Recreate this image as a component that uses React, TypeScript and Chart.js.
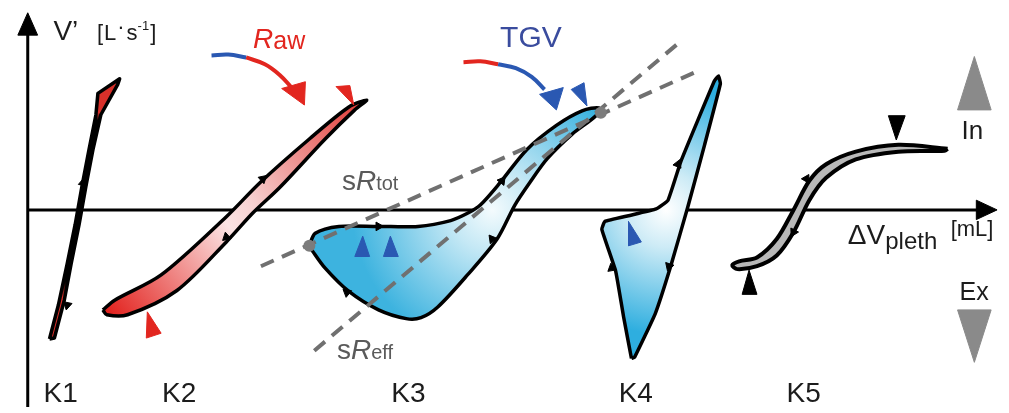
import { useEffect, useRef } from "react";
import { Chart, registerables } from "chart.js";

Chart.register(...registerables);

type P = [number, number];

// data units: origin at the crossing of the two axes (ΔVpleth right, V' up)
const xRange: P = [-22, 987];
const yRange: P = [-203, 210];

const axisV: P[] = [[0, -203], [0, 182]];
const axisH: P[] = [[0, 0], [962, 0]];
const axisVHead: P[] = [[-10, 180], [0, 203], [10, 180]];
const axisHHead: P[] = [[960, 10], [981, 0], [960, -10]];

const loopK1: P[] = [
  [22, -133], [31, -98], [40, -55], [48, -15], [55, 25], [62, 62], [69, 98], [71, 120], [93, 135],
  [91, 129], [74, 98], [66, 62], [59, 25], [52, -15], [44, -55], [37, -93], [27, -132],
];
const loopK2: P[] = [
  [76, -103], [88, -93], [135, -67], [201, -7], [235, 28], [285, 73], [325, 106], [343, 113],
  [331, 103], [301, 73], [255, 23], [228, -3], [201, -33], [151, -83], [101, -108], [80, -108],
];
const loopK3: P[] = [
  [285, -37], [291, -24], [315, -17], [355, -17], [395, -17], [428, -11], [446, -3], [458, 5],
  [478, 28], [505, 62], [535, 87], [561, 102], [578, 105], [575, 97], [551, 78], [526, 53],
  [508, 28], [493, 5], [475, -30], [445, -67], [415, -100], [398, -111], [383, -112],
  [355, -103], [325, -84], [301, -60], [288, -42],
];
const loopK4: P[] = [
  [611, -153], [603, -110], [595, -63], [581, -20], [584, -12], [608, -6], [636, 1], [648, 10],
  [661, 50], [678, 92], [695, 133], [699, 138], [701, 130], [685, 67], [668, 3], [651, -57],
  [635, -107], [614, -152],
];
const loopK5: P[] = [
  [931, 63], [881, 67], [838, 60], [808, 47], [791, 30], [775, 0], [758, -30], [738, -49],
  [720, -53], [713, -57], [718, -61], [738, -58], [758, -47], [775, -23], [791, 10], [808, 33],
  [838, 52], [881, 60], [928, 61],
];

// direction marks along loops: x, y, rotation (deg)
const markX = [56, 40, 238, 201, 355, 323, 470, 480, 658, 649, 591, 788, 775];
const markY = [28, -98, 32, -28, -17, -85, -30, 30, 47, -58, -60, 32, -23];
const markRot = [10, 192, 48, 228, 90, -51, 202, 38, 22, 198, -10, 30, 208];

const lineTot: P[] = [[236, -58], [676, 142]];
const lineEff: P[] = [[290, -145], [660, 173]];
const tgvPoints: P[] = [[285, -37], [580, 100]];

const redTriTop: P[] = [[312, 127], [326, 128], [330, 108]];
const redTriBottom: P[] = [[121, -105], [120, -132], [135, -127]];
const blueTriTip: P[] = [[550, 124], [563, 131], [566, 107]];
const blueTriK3a: P[] = [[331, -48], [346, -48], [339, -27]];
const blueTriK3b: P[] = [[360, -48], [375, -48], [367, -27]];
const blueTriK4: P[] = [[608, -12], [608, -37], [621, -33]];
const blackTriTop: P[] = [[871, 97], [888, 97], [879, 72]];
const blackTriBottom: P[] = [[723, -87], [738, -87], [730, -62]];
const inTri: P[] = [[941, 103], [975, 103], [958, 158]];
const exTri: P[] = [[941, -103], [975, -103], [958, -157]];

const rawArcBlue: P[] = [[186, 159], [203, 160], [221, 157]];
const rawArcRed: P[] = [[221, 157], [240, 150], [255, 139], [267, 126]];
const rawHead: P[] = [[257, 125], [281, 132], [280, 108]];
const tgvArcRed: P[] = [[441, 152], [458, 153], [476, 150]];
const tgvArcBlue: P[] = [[476, 150], [494, 146], [510, 137], [523, 124]];
const tgvHead: P[] = [[518, 119], [542, 126], [535, 103]];

const categories = ["K1", "K2", "K3", "K4", "K5"];
const categoryX = [16, 136, 368, 598, 768];
const categoryY = -198;

const INK = "#1c1c1c";
const GRAY = "#5a5a5a";
const RED = "#e2261f";
const BLUE = "#2a58b2";
const FONT = '"Liberation Sans", Arial, sans-serif';

type Run = { t: string; size: number; color: string; italic?: boolean; dy?: number; gap?: number };
type Label = { x: number; y: number; runs: Run[] };

const labels: Label[] = [
  { x: 26, y: 175, runs: [{ t: "V’", size: 28, color: INK }] },
  {
    x: 70, y: 175, runs: [
      { t: "[", size: 22, color: INK, gap: 1 }, { t: "L", size: 22, color: INK, gap: 1 },
      { t: "·", size: 22, color: INK, dy: -6, gap: 2 },
      { t: "s", size: 22, color: INK }, { t: "-1", size: 13, color: INK, dy: -10, gap: 1 },
      { t: "]", size: 22, color: INK },
    ],
  },
  { x: 228, y: 167, runs: [{ t: "R", size: 28, color: RED, italic: true }, { t: "aw", size: 25, color: RED, dy: 1 }] },
  { x: 478, y: 168, runs: [{ t: "TGV", size: 30, color: "#3a4c9e" }] },
  { x: 318, y: 20, runs: [{ t: "s", size: 28, color: GRAY }, { t: "R", size: 28, color: GRAY, italic: true }, { t: "tot", size: 20, color: GRAY }] },
  { x: 313, y: -154, runs: [{ t: "s", size: 28, color: GRAY }, { t: "R", size: 28, color: GRAY, italic: true }, { t: "eff", size: 20, color: GRAY }] },
  { x: 830, y: -35, runs: [{ t: "ΔV", size: 28, color: INK }, { t: "pleth", size: 24, color: INK, dy: 5 }] },
  { x: 934, y: -27, runs: [{ t: "[mL]", size: 22, color: INK }] },
  { x: 945, y: 73, runs: [{ t: "In", size: 26, color: INK }] },
  { x: 943, y: -93, runs: [{ t: "Ex", size: 25, color: INK }] },
  ...categories.map((c, i) => ({ x: categoryX[i], y: categoryY, runs: [{ t: c, size: 28, color: INK }] })),
];

const pts = (a: P[], close = false) => {
  const d = a.map(([x, y]) => ({ x, y }));
  if (close) d.push({ x: a[0][0], y: a[0][1] });
  return d;
};

function px(chart: any, p: P): P {
  return [chart.scales.x.getPixelForValue(p[0]), chart.scales.y.getPixelForValue(p[1])];
}

function linearGrad(stops: [number, string][], a: P, b: P) {
  return (ctx: any) => {
    const chart = ctx.chart;
    if (!chart.chartArea) return "rgba(0,0,0,0)";
    const [x0, y0] = px(chart, a);
    const [x1, y1] = px(chart, b);
    const g = chart.ctx.createLinearGradient(x0, y0, x1, y1);
    stops.forEach(([o, c]) => g.addColorStop(o, c));
    return g;
  };
}

function radialGrad(stops: [number, string][], c: P, r: number) {
  return (ctx: any) => {
    const chart = ctx.chart;
    if (!chart.chartArea) return "rgba(0,0,0,0)";
    const [x0, y0] = px(chart, c);
    const g = chart.ctx.createRadialGradient(x0, y0, 0, x0, y0, r);
    stops.forEach(([o, col]) => g.addColorStop(o, col));
    return g;
  };
}

const loop = (data: P[], fillColor: any, order: number, tension: number, width = 3.5) => ({
  data: pts(data, true),
  showLine: true,
  fill: "shape",
  backgroundColor: fillColor,
  borderColor: "#000",
  borderWidth: width,
  borderJoinStyle: "round",
  tension,
  pointRadius: 0,
  order,
  clip: false,
});

const poly = (data: P[], color: string, order: number) => ({
  data: pts(data, true),
  showLine: true,
  fill: "shape",
  backgroundColor: color,
  borderColor: color,
  borderWidth: 1,
  tension: 0,
  pointRadius: 0,
  order,
  clip: false,
});

const stroke = (data: P[], color: string, width: number, order: number, tension = 0, dash: number[] = []) => ({
  data: pts(data),
  showLine: true,
  fill: false,
  borderColor: color,
  borderWidth: width,
  borderDash: dash,
  borderCapStyle: "butt",
  tension,
  pointRadius: 0,
  order,
  clip: false,
});

const textPlugin = {
  id: "schemaLabels",
  afterDatasetsDraw(chart: any) {
    const ctx = chart.ctx;
    ctx.save();
    ctx.textAlign = "left";
    ctx.textBaseline = "alphabetic";
    for (const l of labels) {
      let [cx, cy] = px(chart, [l.x, l.y]);
      for (const r of l.runs) {
        ctx.font = `${r.italic ? "italic " : ""}${r.size}px ${FONT}`;
        ctx.fillStyle = r.color;
        ctx.fillText(r.t, cx, cy + (r.dy || 0));
        cx += ctx.measureText(r.t).width + (r.gap || 0);
      }
    }
    ctx.restore();
  },
};

export default function App() {
  const ref = useRef<HTMLCanvasElement | null>(null);
  useEffect(() => {
    document.body.style.margin = "0";
    const canvas = ref.current!;
    const datasets: any[] = [
      stroke(axisV, "#000", 3, 100),
      stroke(axisH, "#000", 3, 100),
      poly(axisVHead, "#000", 100),
      poly(axisHHead, "#000", 100),
      loop(loopK1, linearGrad([[0, "#d8302a"], [0.16, "#d8302a"], [0.22, "#000"], [0.84, "#000"], [0.87, "#d8302a"], [1, "#d8302a"]], [24, -133], [24, 135]), 50, 0, 3.5),
      loop(loopK2, linearGrad([[0, "#e2201c"], [0.45, "#fbe4e4"], [0.55, "#f7d0d0"], [1, "#e03a36"]], [78, -105], [340, 112]), 50, 0.3),
      loop(loopK3, radialGrad([[0, "#f4fbfd"], [0.3, "#c4e8f5"], [1, "#3db3df"]], [470, 0], 140), 50, 0.3),
      loop(loopK4, radialGrad([[0, "#ffffff"], [0.3, "#cdebf6"], [1, "#2eaedf"]], [646, 0], 125), 50, 0.1),
      loop(loopK5, "#b8b8b8", 50, 0.3, 4),
      stroke(lineTot, "#707070", 4, 20, 0, [14, 9]),
      stroke(lineEff, "#707070", 4, 20, 0, [14, 9]),
      {
        data: pts(tgvPoints),
        showLine: false,
        pointRadius: 6,
        pointBackgroundColor: "#7c7c7c",
        pointBorderWidth: 0,
        order: 10,
        clip: false,
      },
      {
        data: markX.map((x, i) => ({ x, y: markY[i] })),
        showLine: false,
        pointStyle: "triangle",
        pointRadius: 5,
        pointRotation: markRot,
        pointBackgroundColor: "#000",
        pointBorderColor: "#000",
        pointBorderWidth: 1,
        order: 5,
        clip: false,
      },
      poly(redTriTop, RED, 5),
      poly(redTriBottom, RED, 5),
      poly(blueTriTip, BLUE, 5),
      poly(blueTriK3a, BLUE, 5),
      poly(blueTriK3b, BLUE, 5),
      poly(blueTriK4, BLUE, 5),
      poly(blackTriTop, "#000", 5),
      poly(blackTriBottom, "#000", 5),
      poly(inTri, "#8a8a8a", 5),
      poly(exTri, "#8a8a8a", 5),
      stroke(rawArcBlue, BLUE, 4, 5, 0.4),
      stroke(rawArcRed, RED, 4, 5, 0.4),
      poly(rawHead, RED, 5),
      stroke(tgvArcRed, RED, 4, 5, 0.4),
      stroke(tgvArcBlue, BLUE, 4, 5, 0.4),
      poly(tgvHead, BLUE, 5),
    ];
    const chart = new Chart(canvas, {
      type: "line",
      data: { datasets },
      options: {
        animation: false,
        responsive: false,
        maintainAspectRatio: false,
        events: [],
        layout: { padding: 0 },
        plugins: { legend: { display: false }, tooltip: { enabled: false } },
        scales: {
          x: { type: "linear", min: xRange[0], max: xRange[1], display: false },
          y: { type: "linear", min: yRange[0], max: yRange[1], display: false },
        },
      },
      plugins: [textPlugin],
    } as any);
    return () => chart.destroy();
  }, []);
  return (
    <div style={{ width: 1009, height: 413, background: "#fff" }}>
      <canvas ref={ref} width={1009} height={413} style={{ display: "block" }} />
    </div>
  );
}
